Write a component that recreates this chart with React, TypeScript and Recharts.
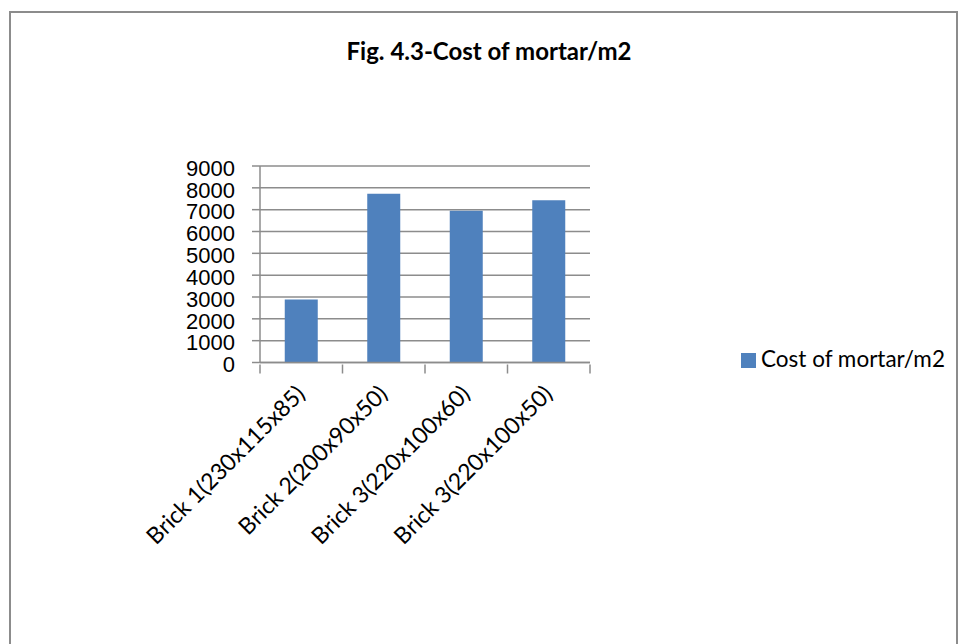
import React from "react";
import { BarChart, Bar, XAxis, YAxis, CartesianGrid } from "recharts";

// values
const categories = [
  "Brick 1(230x115x85)",
  "Brick 2(200x90x50)",
  "Brick 3(220x100x60)",
  "Brick 3(220x100x50)",
];
const mortarCost = [2880, 7730, 6950, 7430];
const yTicks = [0, 1000, 2000, 3000, 4000, 5000, 6000, 7000, 8000, 9000];
const seriesName = "Cost of mortar/m2";
const chartTitle = "Fig. 4.3-Cost of mortar/m2";

const data = categories.map((name, i) => ({ name, cost: mortarCost[i] }));

const BAR_COLOR = "#4F81BD";
const GRID_COLOR = "#8c8c8c";
const CALIBRI_LIKE = "Lato, 'Open Sans', sans-serif";
const ARIAL_LIKE = "'Liberation Sans', Arial, sans-serif";

// rotated labels, plus the tick marks Excel puts between categories
const CategoryTick = (props: any) => {
  const { x, y, payload, index, visibleTicksCount } = props;
  const half = payload?.offset || 41.25;
  const last = (visibleTicksCount ?? categories.length) - 1;
  const ax = x + 5;
  const ay = y + 31;
  return (
    <g>
      <line x1={x - half} x2={x - half} y1={y} y2={y + 9} stroke={GRID_COLOR} strokeWidth={1.5} />
      {index === last && (
        <line x1={x + half} x2={x + half} y1={y} y2={y + 9} stroke={GRID_COLOR} strokeWidth={1.5} />
      )}
      <text
        x={ax}
        y={ay}
        transform={`rotate(-45, ${ax}, ${ay})`}
        textAnchor="end"
        fontSize={23}
        fontFamily={CALIBRI_LIKE}
        fill="#000"
      >
        {payload.value}
      </text>
    </g>
  );
};

export default function App() {
  return (
    <div style={{ position: "absolute", left: 0, top: 0, width: 960, height: 644, overflow: "hidden", background: "#fff" }}>
      <div
        style={{
          position: "absolute", left: 9, top: 11, width: 945, height: 700,
          border: "2px solid #8c8c8c",
        }}
      />
      <BarChart
        width={960}
        height={644}
        data={data}
        margin={{ top: 166, right: 370, bottom: 221.5, left: 180 }}
        barCategoryGap="30%"
      >
        <CartesianGrid vertical={false} stroke={GRID_COLOR} strokeWidth={1.5} />
        <XAxis
          dataKey="name"
          height={60}
          interval={0}
          tickSize={0}
          tickLine={false}
          axisLine={{ stroke: GRID_COLOR, strokeWidth: 1.5 }}
          tick={<CategoryTick />}
        />
        <YAxis
          width={80}
          domain={[0, 9000]}
          ticks={yTicks}
          interval={0}
          tickSize={8}
          tickMargin={17}
          axisLine={{ stroke: GRID_COLOR, strokeWidth: 1.5 }}
          tickLine={{ stroke: GRID_COLOR, strokeWidth: 1.5 }}
          tick={{ fill: "#000", fontSize: 22, fontFamily: ARIAL_LIKE, dy: 2 }}
        />
        <Bar dataKey="cost" name={seriesName} fill={BAR_COLOR} isAnimationActive={false} />
      </BarChart>
      <svg width={960} height={644} style={{ position: "absolute", left: 0, top: 0, pointerEvents: "none" }}>
        <text x={489} y={60} textAnchor="middle" fontSize={24} fontWeight="bold" fontFamily={CALIBRI_LIKE} fill="#000">
          {chartTitle}
        </text>
        <rect x={741} y={353} width={15} height={15} fill={BAR_COLOR} />
        <text x={761} y={367} fontSize={22.5} fontFamily={CALIBRI_LIKE} fill="#000">
          {seriesName}
        </text>
      </svg>
    </div>
  );
}
